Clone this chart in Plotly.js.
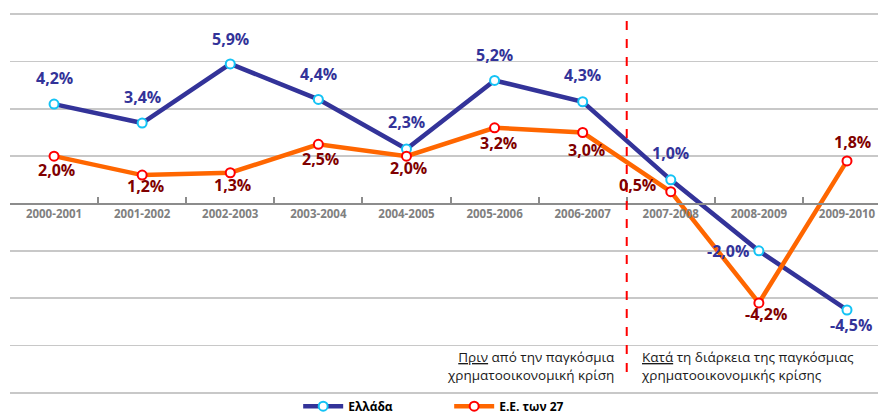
<!DOCTYPE html>
<html>
<head>
<meta charset="utf-8">
<script src="https://cdn.plot.ly/plotly-3.0.1.min.js"></script>
<style>html,body{margin:0;padding:0;background:#fff;}#chart{width:878px;height:416px;}</style>
</head>
<body>
<div id="chart"></div>
<script>
// ---- data ----
const periods = ["2000-2001","2001-2002","2002-2003","2003-2004","2004-2005","2005-2006","2006-2007","2007-2008","2008-2009","2009-2010"];
const greece = [4.2, 3.4, 5.9, 4.4, 2.3, 5.2, 4.3, 1.0, -2.0, -4.5];
const eu27   = [2.0, 1.2, 1.3, 2.5, 2.0, 3.2, 3.0, 0.5, -4.2, 1.8];
const seriesNames = ["Ελλάδα", "Ε.Ε. των 27"];
const beforeText = "<u>Πριν</u> από την παγκόσμια<br>χρηματοοικονομική κρίση";
const duringText = "<u>Κατά</u> τη διάρκεια της παγκόσμιας<br>χρηματοοικονομικής κρίσης";

// label placement (pixel offsets from each point)
const grLabelShift = [[0,26],[0,26],[0,25],[0,25],[0,27],[0,25],[0,27],[0,27],[-31,0],[4,-15]];
const euLabelShift = [[2,-14],[3,-11],[2,-12],[2,-15],[2,-12],[4,-15],[4,-17],[-33,7],[7,-11],[6,19]];

const fontFam = "'Open Sans', 'Noto Sans', sans-serif";
const fmt = v => v.toFixed(1).replace('.', ',') + '%';

const traces = [
  {
    x: periods, y: greece, name: seriesNames[0], type: 'scatter', mode: 'lines+markers',
    line: {color: '#333399', width: 4.5},
    marker: {symbol: 'circle', size: 9, color: '#ffffff', line: {color: '#14c3f5', width: 2}}
  },
  {
    x: periods, y: eu27, name: seriesNames[1], type: 'scatter', mode: 'lines+markers',
    line: {color: '#ff6600', width: 4.5},
    marker: {symbol: 'circle', size: 9, color: '#ffffff', line: {color: '#ff0000', width: 2}}
  }
];

const annotations = [];
greece.forEach((v, i) => annotations.push({
  x: periods[i], y: v, xref: 'x', yref: 'y', text: '<b>' + fmt(v) + '</b>', showarrow: false,
  xshift: grLabelShift[i][0], yshift: grLabelShift[i][1],
  font: {family: fontFam, size: 16, color: '#333399'}
}));
eu27.forEach((v, i) => annotations.push({
  x: periods[i], y: v, xref: 'x', yref: 'y', text: '<b>' + fmt(v) + '</b>', showarrow: false,
  xshift: euLabelShift[i][0], yshift: euLabelShift[i][1],
  font: {family: fontFam, size: 16, color: '#800000'}
}));
annotations.push({
  x: 6.5, y: 0.074, xref: 'x', yref: 'paper', text: beforeText, showarrow: false,
  xanchor: 'right', yanchor: 'middle', align: 'right', xshift: -10,
  font: {family: fontFam, size: 13.5, color: '#1a1a1a'}
});
annotations.push({
  x: 6.5, y: 0.074, xref: 'x', yref: 'paper', text: duringText, showarrow: false,
  xanchor: 'left', yanchor: 'middle', align: 'left', xshift: 12,
  font: {family: fontFam, size: 13.5, color: '#1a1a1a'}
});

const layout = {
  width: 878, height: 416,
  margin: {l: 10, r: 0, t: 13, b: 22, pad: 0, autoexpand: false},
  paper_bgcolor: '#ffffff', plot_bgcolor: '#ffffff',
  showlegend: true,
  legend: {
    orientation: 'h', x: 0.332, xanchor: 'left', y: 0.006, yanchor: 'top',
    font: {family: fontFam, size: 12, color: '#000000', weight: 'bold'},
    entrywidth: 96, itemwidth: 40, bgcolor: 'rgba(0,0,0,0)', tracegroupgap: 0
  },
  xaxis: {
    type: 'category', range: [-0.5, 9.352], anchor: 'free', position: 0.5,
    showline: true, linecolor: '#8c8c8c', linewidth: 2,
    ticks: 'inside', tickson: 'boundaries', ticklen: 6, tickwidth: 2, tickcolor: '#8c8c8c',
    showgrid: false, zeroline: false, fixedrange: true, automargin: false,
    tickfont: {family: fontFam, size: 11.5, color: '#808080', weight: 'bold'}
  },
  yaxis: {
    range: [-8.05, 8.05], tick0: 0, dtick: 2, showticklabels: false, ticks: '', automargin: false,
    showgrid: true, gridcolor: '#c8c8c8', gridwidth: 1.5, zeroline: false, showline: false, fixedrange: true
  },
  shapes: [{
    type: 'line', xref: 'x', yref: 'paper', x0: 6.5, x1: 6.5, y0: 0.058, y1: 0.997,
    line: {color: '#ff0000', width: 2, dash: 'dash'}
  }],
  annotations: annotations
};

Plotly.newPlot('chart', traces, layout, {displayModeBar: false, staticPlot: true});
</script>
</body>
</html>
